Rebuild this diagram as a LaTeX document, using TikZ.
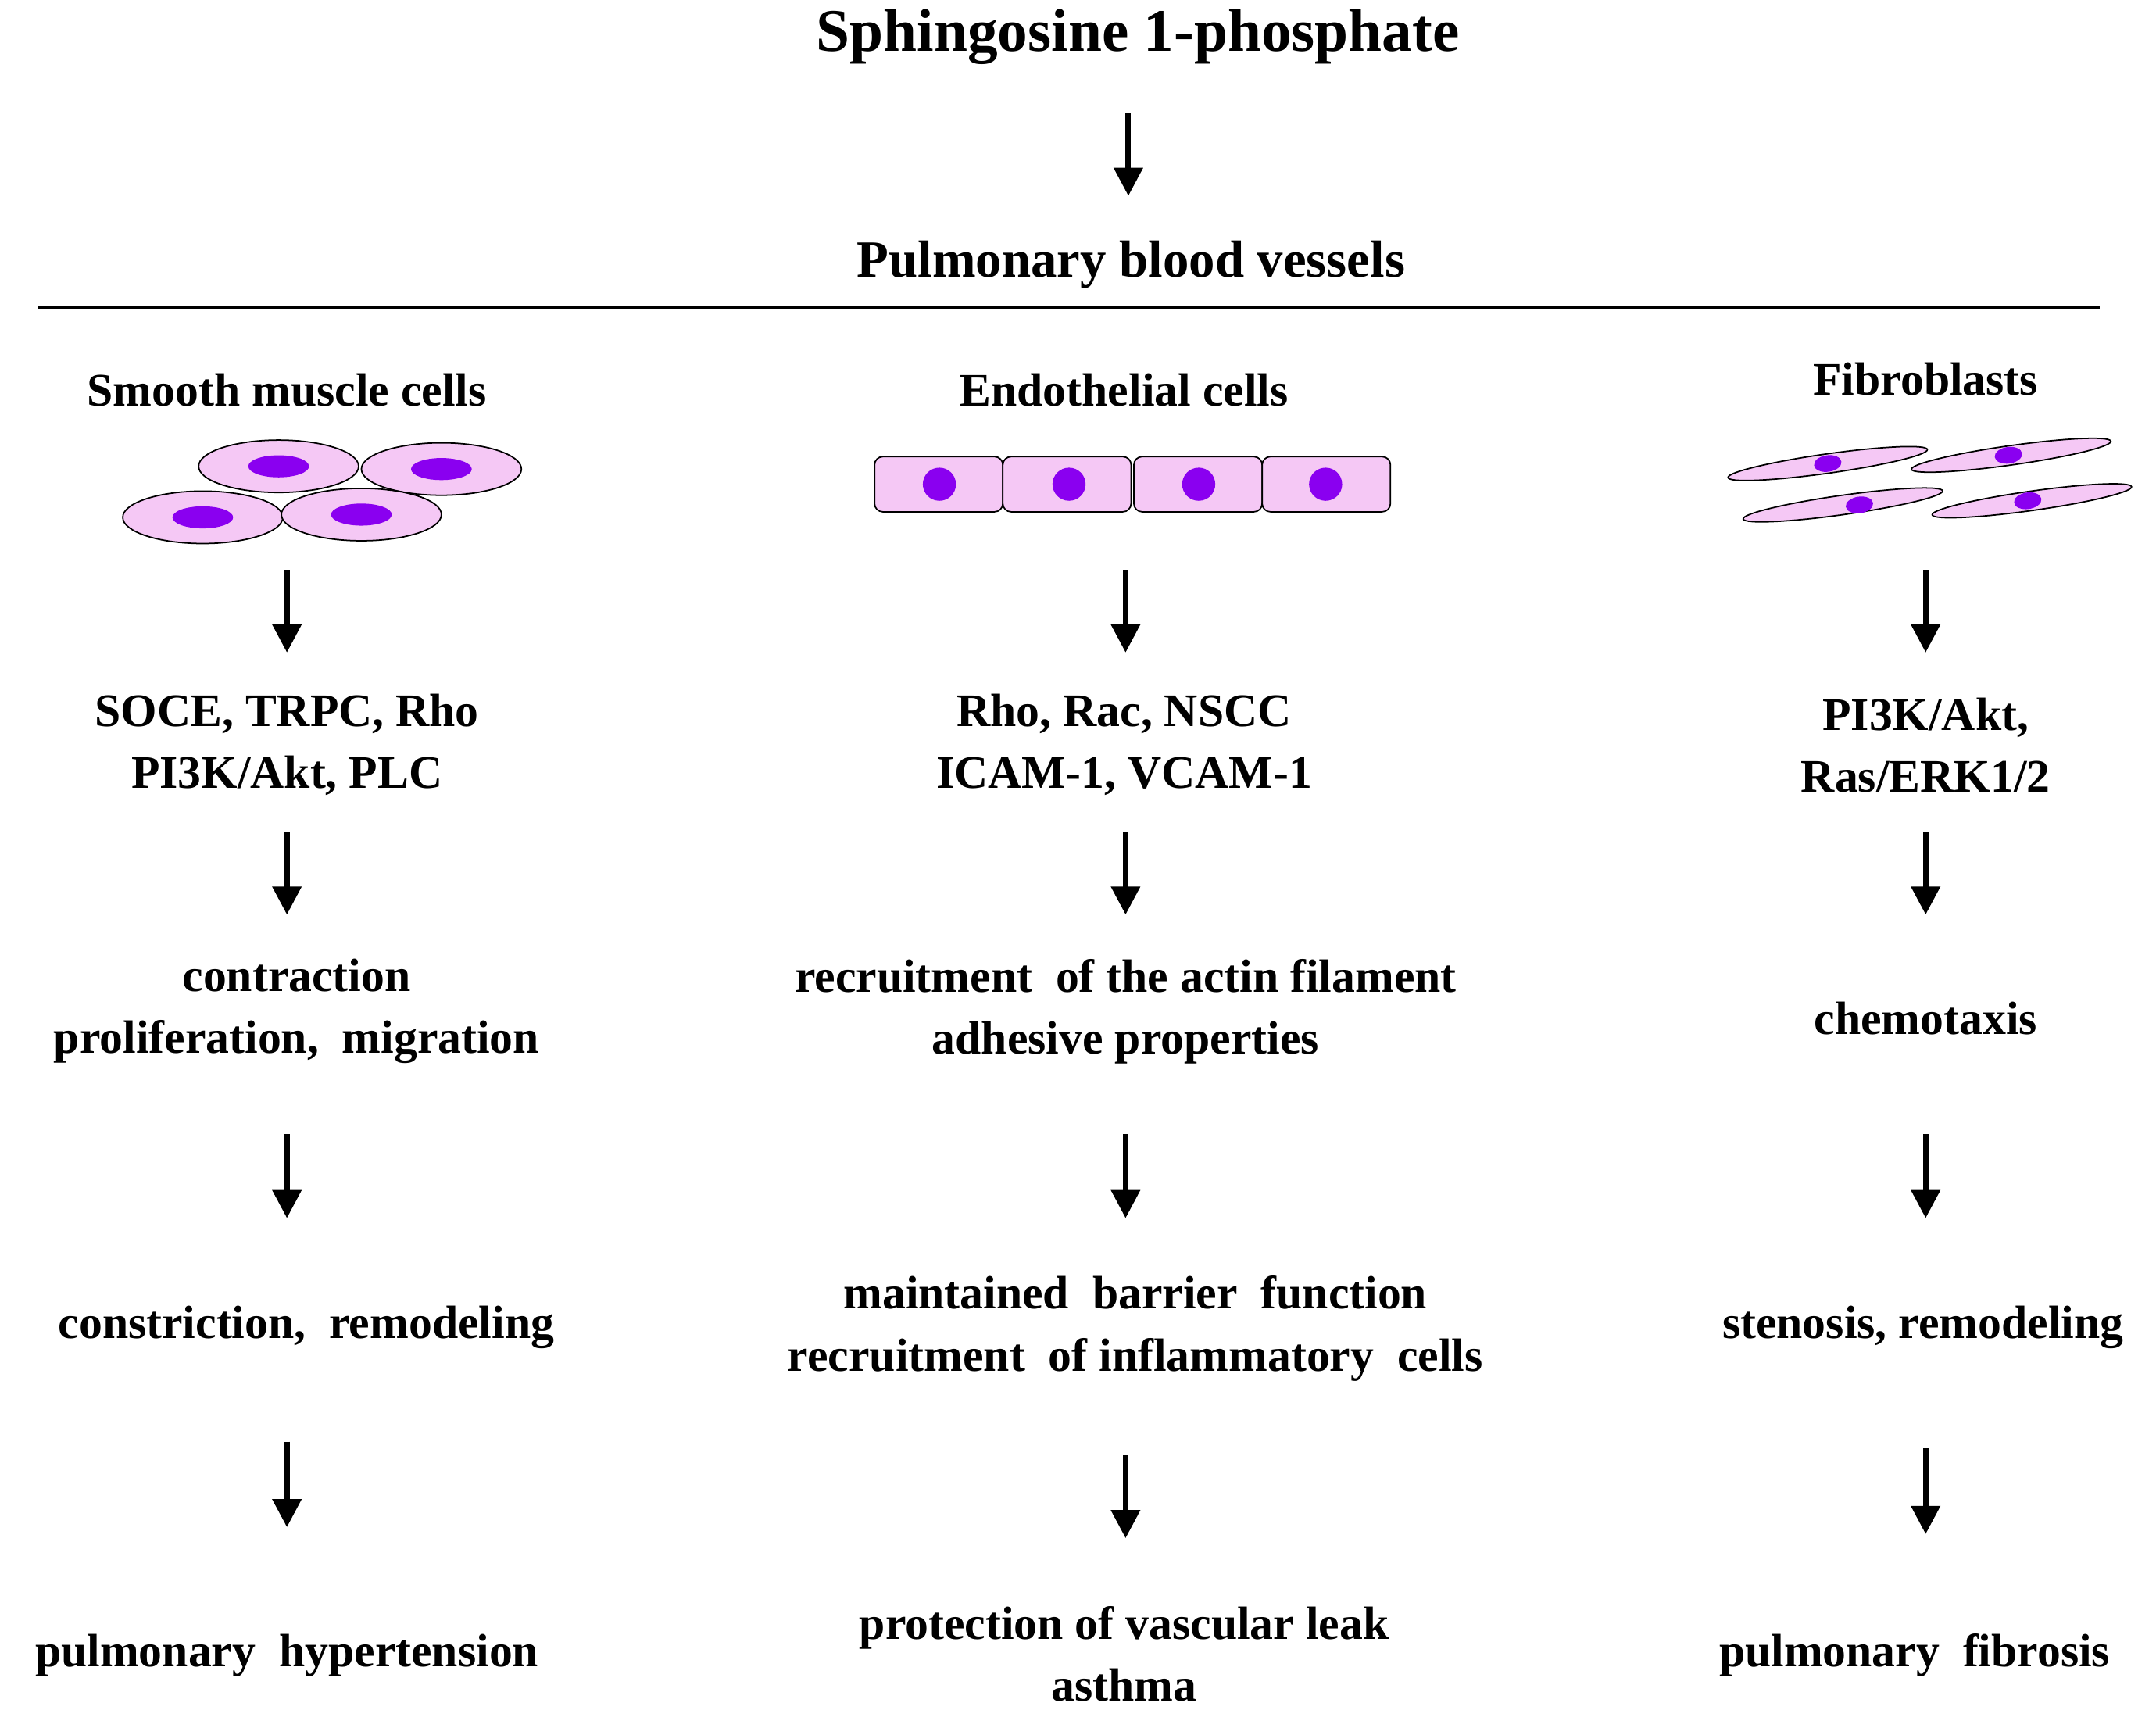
\documentclass[tikz,border=0pt]{standalone}
\usepackage{fontspec}
\setmainfont{Liberation Serif}
\usetikzlibrary{arrows.meta}
\definecolor{cellpink}{HTML}{F5C8F5}
\definecolor{nuc}{HTML}{8A00F0}
\begin{document}
\begin{tikzpicture}[x=0.01765cm,y=-0.01765cm,
 txt/.style={font=\fontsize{17}{22.5}\selectfont\bfseries,align=center,inner sep=0},
 arr/.style={line width=2pt,-{Triangle[length=0.36cm,width=0.36cm]}},
 cell/.style={fill=cellpink,draw=black,line width=0.5pt},
 nucleus/.style={fill=nuc,draw=none}]
\useasboundingbox (0,0) rectangle (1563,1239);
\node[txt,font=\fontsize{22}{26}\selectfont\bfseries] (title) at (825,27) {Sphingosine 1-phosphate};
\coordinate (a0s) at (818,82); \coordinate (a0e) at (818,142);
\draw[arr] (a0s) -- (a0e);
\node[txt,font=\fontsize{19}{24}\selectfont\bfseries] (pbv) at (820,192) {Pulmonary blood vessels};
\coordinate (l1) at (27,223); \coordinate (l2) at (1522,223);
\draw[line width=1.6pt] (l1) -- (l2);
% headers
\node[txt] (h1) at (208,283) {Smooth muscle cells};
\node[txt] (h2) at (815,283) {Endothelial cells};
\node[txt] (h3) at (1396,275) {Fibroblasts};
% smooth muscle cells
\foreach \x/\y in {202/338,320/340,147/375,262/373}{
 \draw[cell] (\x,\y) ellipse [x radius=58,y radius=19];
 \fill[nucleus] (\x,\y) ellipse [x radius=22,y radius=8];}
% endothelial
\foreach \x in {634,727,822,915}{
 \draw[cell,rounded corners=3pt] (\x,331) rectangle (\x+93,371);}
\foreach \x in {681,775,869,961}{\fill[nucleus] (\x,351) circle (12);}
% fibroblasts
\foreach \x/\y/\n in {1325/336/1325,1458/330/1456,1336/366/1348,1473/363/1470}{
 \draw[cell,rotate around={8:(\x,\y)}] (\x,\y) ellipse [x radius=73,y radius=7];
 \fill[nucleus,rotate around={8:(\n,\y)}] (\n,\y) ellipse [x radius=10,y radius=6];}
% column texts
\node[txt] (s1) at (208,540) {SOCE, TRPC, Rho\\PI3K/Akt, PLC};
\node[txt] (s2) at (215,733) {contraction\\proliferation,\ \ migration};
\node[txt] (s3) at (222,962) {constriction,\ \ remodeling};
\node[txt] (s4) at (208,1200) {pulmonary\ \ hypertension};
\node[txt] (e1) at (815,540) {Rho, Rac, NSCC\\ICAM-1, VCAM-1};
\node[txt] (e2) at (816,733) {recruitment\ \ of the actin filament\\adhesive properties};
\node[txt] (e3) at (823,963) {maintained\ \ barrier\ \ function\\recruitment\ \ of inflammatory\ \ cells};
\node[txt] (e4) at (815,1199) {protection\ of vascular leak\\asthma};
\node[txt] (f1) at (1396,540) {PI3K/Akt,\\Ras/ERK1/2};
\node[txt] (f2) at (1396,738) {chemotaxis};
\node[txt] (f3) at (1394,962) {stenosis,\ remodeling};
\node[txt] (f4) at (1388,1200) {pulmonary\ \ fibrosis};
% arrows
\foreach \c/\x in {s/208,e/816,f/1396}{
 \coordinate (\c a1) at (\x,413); \coordinate (\c b1) at (\x,473);
 \coordinate (\c a2) at (\x,603); \coordinate (\c b2) at (\x,663);
 \coordinate (\c a3) at (\x,822); \coordinate (\c b3) at (\x,883);
 \draw[arr] (\c a1) -- (\c b1);
 \draw[arr] (\c a2) -- (\c b2);
 \draw[arr] (\c a3) -- (\c b3);}
\coordinate (sa4) at (208,1045); \coordinate (sb4) at (208,1107);
\coordinate (ea4) at (816,1055); \coordinate (eb4) at (816,1115);
\coordinate (fa4) at (1396,1050); \coordinate (fb4) at (1396,1112);
\draw[arr] (sa4) -- (sb4);
\draw[arr] (ea4) -- (eb4);
\draw[arr] (fa4) -- (fb4);
\end{tikzpicture}
\end{document}
